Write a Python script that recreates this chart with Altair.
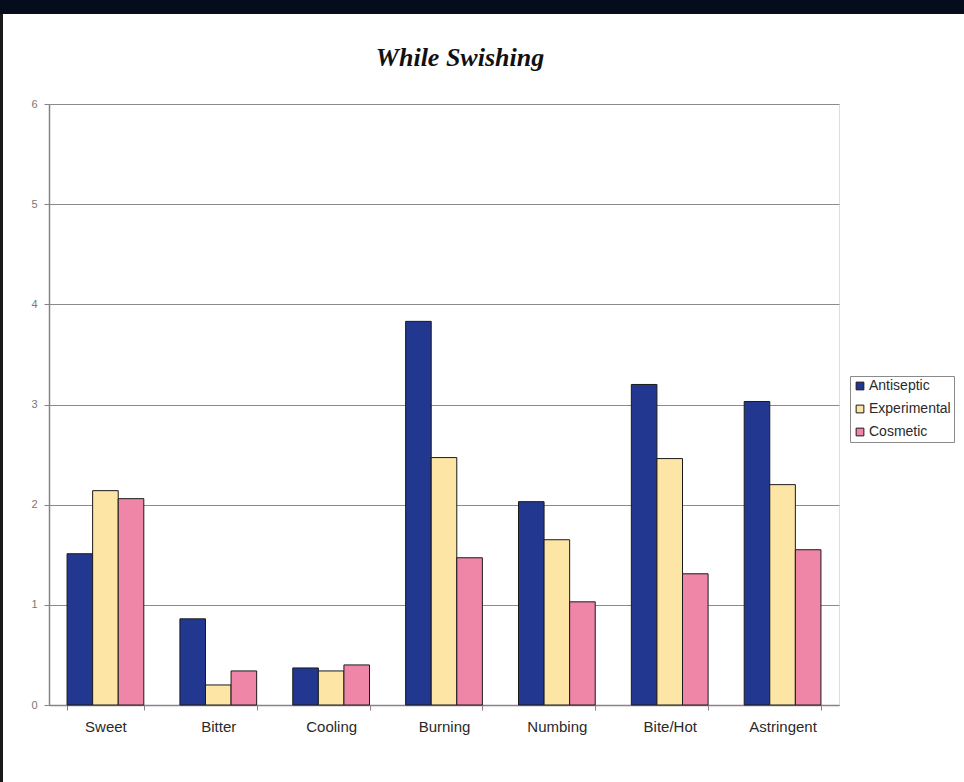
import altair as alt
import pandas as pd

# Mean sensory ratings while swishing, per attribute and mouthrinse type
attributes = ["Sweet", "Bitter", "Cooling", "Burning", "Numbing", "Bite/Hot", "Astringent"]
rinses = ["Antiseptic", "Experimental", "Cosmetic"]
antiseptic = [1.51, 0.86, 0.37, 3.83, 2.03, 3.20, 3.03]
experimental = [2.14, 0.20, 0.34, 2.47, 1.65, 2.46, 2.20]
cosmetic = [2.06, 0.34, 0.40, 1.47, 1.03, 1.31, 1.55]
rinse_colors = ["#22378f", "#fce5a5", "#ef86a8"]
y_ticks = [0, 1, 2, 3, 4, 5, 6]

rows = []
for series_name, series in zip(rinses, [antiseptic, experimental, cosmetic]):
    for attr, val in zip(attributes, series):
        rows.append({"Attribute": attr, "Rinse": series_name, "Rating": val})
df = pd.DataFrame(rows)

W, H = 790, 601
PAD_L, PAD_T = 49, 104

bars = alt.Chart(df).mark_bar(stroke="#1a1a1a", strokeWidth=1).encode(
    x=alt.X(
        "Attribute:N",
        sort=attributes,
        title=None,
        scale=alt.Scale(paddingInner=0.32, paddingOuter=0.16),
        axis=alt.Axis(
            labelAngle=0,
            labelFont="Liberation Sans",
            labelFontSize=15,
            labelColor="#2a2a2a",
            tickBand="extent",
            tickSize=5,
            tickColor="#8c7f8f",
            domainColor="#8c7f8f",
            domainWidth=1.5,
            labelPadding=9,
            grid=False,
        ),
    ),
    xOffset=alt.XOffset("Rinse:N", sort=rinses, scale=alt.Scale(paddingInner=0, paddingOuter=0)),
    y=alt.Y(
        "Rating:Q",
        title=None,
        scale=alt.Scale(domain=[0, 6], nice=False),
        axis=alt.Axis(
            values=y_ticks,
            format="d",
            labelFont="Liberation Sans",
            labelFontSize=11,
            labelColor="#777777",
            tickSize=5,
            tickColor="#8c7f8f",
            domainColor="#8c7f8f",
            domainWidth=1.5,
            labelPadding=7,
            grid=True,
            gridColor="#8a8a8a",
            gridWidth=1,
        ),
    ),
    color=alt.Color(
        "Rinse:N",
        sort=rinses,
        scale=alt.Scale(domain=rinses, range=rinse_colors),
        legend=alt.Legend(
            title=None,
            orient="none",
            legendX=801,
            legendY=272,
            symbolType="square",
            symbolSize=60,
            symbolStrokeColor="#1a1a1a",
            symbolStrokeWidth=1,
            labelFont="Liberation Sans",
            labelFontSize=14,
            labelColor="#2a2a2a",
            labelOffset=2,
            rowPadding=9,
            padding=3,
            strokeColor="#8a8a8a",
            fillColor="white",
        ),
    ),
)

# Frame around the page: dark band along the top edge and a rule down the left edge
frame = pd.DataFrame({"k": [0]})
top_band = alt.Chart(frame).mark_rect(color="#050d1c").encode(
    x=alt.value(-PAD_L), x2=alt.value(964 - PAD_L),
    y=alt.value(-PAD_T), y2=alt.value(14 - PAD_T),
)
left_edge = alt.Chart(frame).mark_rect(color="#1a1a1a").encode(
    x=alt.value(-PAD_L), x2=alt.value(3 - PAD_L),
    y=alt.value(14 - PAD_T), y2=alt.value(782 - PAD_T),
)

chart = alt.layer(bars, top_band, left_edge).properties(
    width=W,
    height=H,
    title=alt.TitleParams(
        "While Swishing",
        font="Liberation Serif",
        fontSize=26,
        fontStyle="italic",
        fontWeight="bold",
        color="#111111",
        anchor="middle",
        frame="group",
        dx=16,
        offset=-71,
    ),
    autosize=alt.AutoSizeParams(type="none"),
    padding={"left": PAD_L, "top": PAD_T, "right": 964 - PAD_L - W, "bottom": 782 - PAD_T - H},
).configure_view(
    stroke="#8c7f8f", strokeWidth=1.5
).configure(background="white")

chart.save("out.html", embed_options={"renderer": "svg", "actions": False})
